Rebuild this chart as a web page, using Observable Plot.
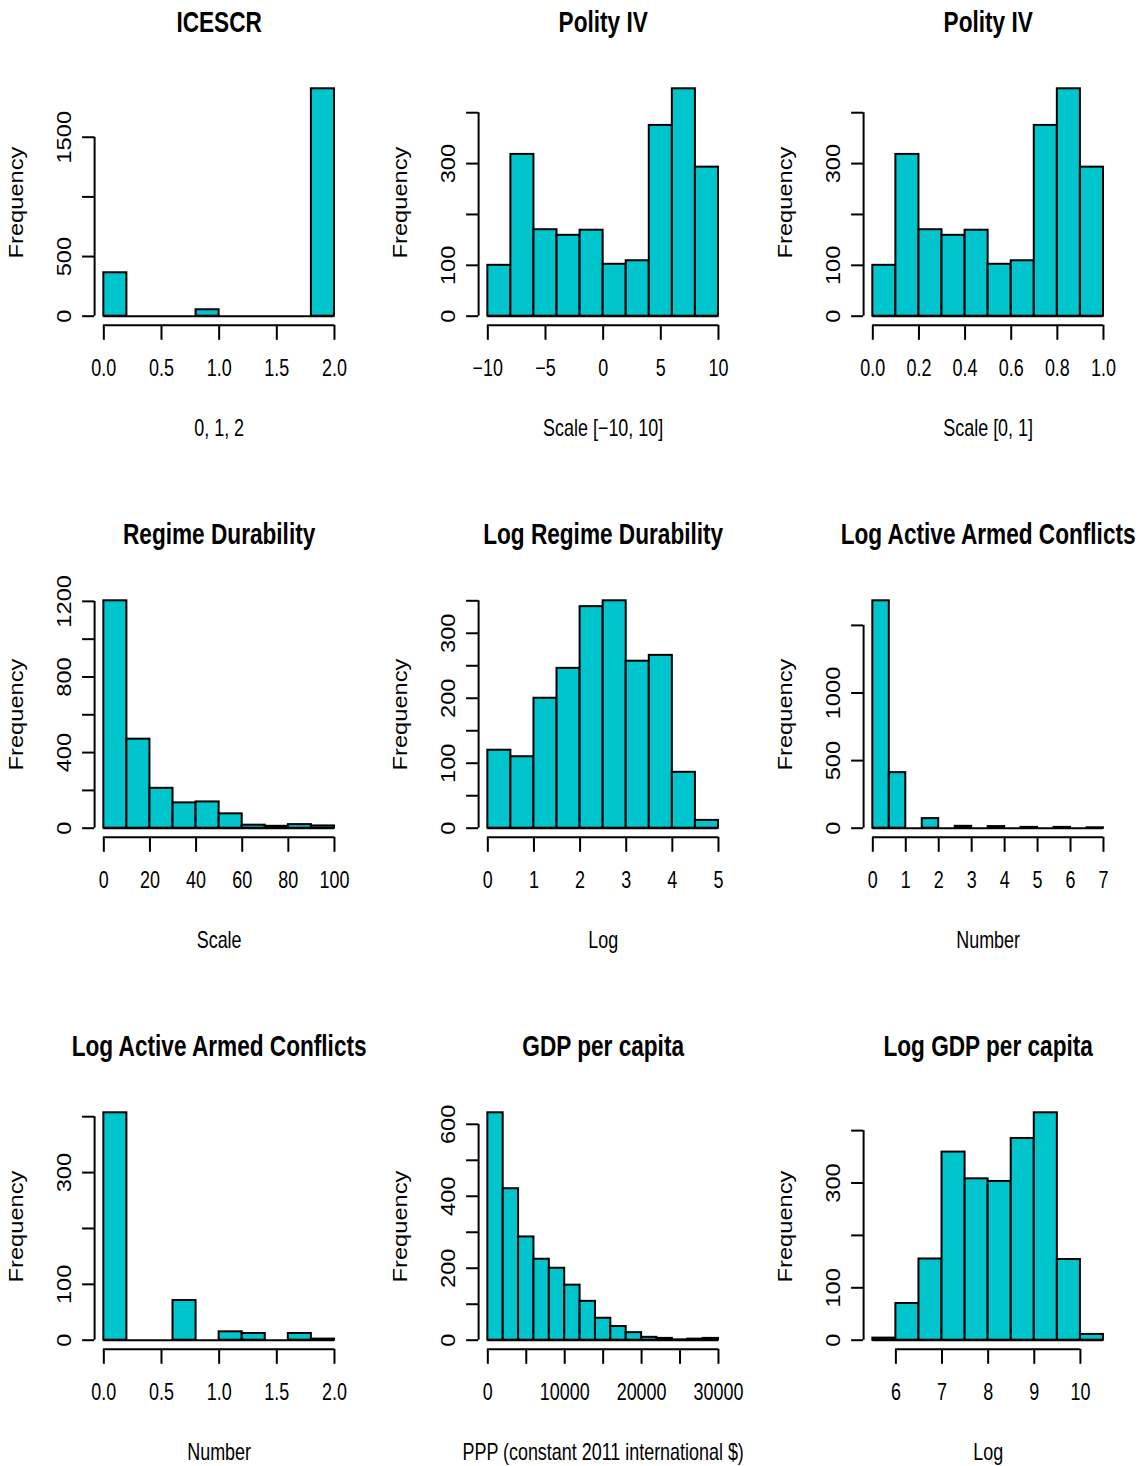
<!DOCTYPE html>
<html><head><meta charset="utf-8">
<script src="https://cdn.jsdelivr.net/npm/d3@7"></script>
<script src="https://cdn.jsdelivr.net/npm/@observablehq/plot@0.6"></script>
<style>
html,body{margin:0;padding:0;background:#fff;overflow:hidden;}
#wrap{position:relative;width:1147px;height:1466px;overflow:hidden;background:#fff;}
#wrap svg{position:absolute;overflow:visible;}
</style></head><body><div id="wrap"></div>
<script>
// ---- Titles ----
const titles = ["ICESCR","Polity IV","Polity IV","Regime Durability","Log Regime Durability","Log Active Armed Conflicts","Log Active Armed Conflicts","GDP per capita","Log GDP per capita"];
const xTitles = ["0, 1, 2","Scale [\u221210, 10]","Scale [0, 1]","Scale","Log","Number","Number","PPP (constant 2011 international $)","Log"];

// ---- Histogram bins (breaks) and counts ----
const icescrBreaks = [0,0.2,0.4,0.6,0.8,1.0,1.2,1.4,1.6,1.8,2.0];
const icescrCounts = [364,0,0,0,54,0,0,0,0,1906];

const polityBreaks = [-10,-8,-6,-4,-2,0,2,4,6,8,10];
const polityCounts = [100,318,170,159,169,102,109,375,447,293];

const polity01Breaks = [0,0.1,0.2,0.3,0.4,0.5,0.6,0.7,0.8,0.9,1.0];
const polity01Counts = [100,318,170,159,169,102,109,375,447,293];

const durabilityBreaks = [0,10,20,30,40,50,60,70,80,90,100];
const durabilityCounts = [1203,471,211,134,139,76,16,10,19,12];

const logDurabilityBreaks = [0,0.5,1,1.5,2,2.5,3,3.5,4,4.5,5];
const logDurabilityCounts = [120,110,200,246,341,350,257,266,86,12];

const conflictsBreaks = [0,0.5,1,1.5,2,2.5,3,3.5,4,4.5,5,5.5,6,6.5,7];
const conflictsCounts = [1682,411,0,71,0,14,0,12,0,6,0,6,0,3];

const conflicts2Breaks = [0,0.2,0.4,0.6,0.8,1.0,1.2,1.4,1.6,1.8,2.0];
const conflicts2Counts = [407,0,0,71,0,15,12,0,12,2];

const gdpBreaks = [0,2000,4000,6000,8000,10000,12000,14000,16000,18000,20000,22000,24000,26000,28000,30000];
const gdpCounts = [632,421,287,225,200,153,108,61,38,21,8,5,1,3,5];

const logGdpBreaks = [5.5,6,6.5,7,7.5,8,8.5,9,9.5,10,10.5];
const logGdpCounts = [4,70,155,359,308,303,385,434,154,11];

// ---- Axis ticks and tick labels ----
const icescrXTicks = [0,0.5,1,1.5,2];        const icescrXLabels = ["0.0","0.5","1.0","1.5","2.0"];
const icescrYTicks = [0,500,1000,1500];       const icescrYLabels = [[0,"0"],[500,"500"],[1500,"1500"]];
const polityXTicks = [-10,-5,0,5,10];         const polityXLabels = ["\u221210","\u22125","0","5","10"];
const polityYTicks = [0,100,200,300,400];     const polityYLabels = [[0,"0"],[100,"100"],[300,"300"]];
const polity01XTicks = [0,0.2,0.4,0.6,0.8,1]; const polity01XLabels = ["0.0","0.2","0.4","0.6","0.8","1.0"];
const durabilityXTicks = [0,20,40,60,80,100]; const durabilityXLabels = ["0","20","40","60","80","100"];
const durabilityYTicks = [0,200,400,600,800,1000,1200]; const durabilityYLabels = [[0,"0"],[400,"400"],[800,"800"],[1200,"1200"]];
const logDurXTicks = [0,1,2,3,4,5];           const logDurXLabels = ["0","1","2","3","4","5"];
const logDurYTicks = [0,50,100,150,200,250,300,350]; const logDurYLabels = [[0,"0"],[100,"100"],[200,"200"],[300,"300"]];
const conflictsXTicks = [0,1,2,3,4,5,6,7];    const conflictsXLabels = ["0","1","2","3","4","5","6","7"];
const conflictsYTicks = [0,500,1000,1500];    const conflictsYLabels = [[0,"0"],[500,"500"],[1000,"1000"]];
const conflicts2XTicks = [0,0.5,1,1.5,2];     const conflicts2XLabels = ["0.0","0.5","1.0","1.5","2.0"];
const conflicts2YTicks = [0,100,200,300,400]; const conflicts2YLabels = [[0,"0"],[100,"100"],[300,"300"]];
const gdpXTicks = [0,5000,10000,15000,20000,25000,30000]; const gdpXLabels = ["0","","10000","","20000","","30000"];
const gdpYTicks = [0,100,200,300,400,500,600]; const gdpYLabels = [[0,"0"],[200,"200"],[400,"400"],[600,"600"]];
const logGdpXTicks = [6,7,8,9,10];            const logGdpXLabels = ["6","7","8","9","10"];
const logGdpYTicks = [0,100,200,300,400];     const logGdpYLabels = [[0,"0"],[100,"100"],[300,"300"]];

// ---- Build panel specs from the arrays ----
const panels = [
  [icescrBreaks, icescrCounts, icescrXTicks, icescrXLabels, icescrYTicks, icescrYLabels],
  [polityBreaks, polityCounts, polityXTicks, polityXLabels, polityYTicks, polityYLabels],
  [polity01Breaks, polity01Counts, polity01XTicks, polity01XLabels, polityYTicks, polityYLabels],
  [durabilityBreaks, durabilityCounts, durabilityXTicks, durabilityXLabels, durabilityYTicks, durabilityYLabels],
  [logDurabilityBreaks, logDurabilityCounts, logDurXTicks, logDurXLabels, logDurYTicks, logDurYLabels],
  [conflictsBreaks, conflictsCounts, conflictsXTicks, conflictsXLabels, conflictsYTicks, conflictsYLabels],
  [conflicts2Breaks, conflicts2Counts, conflicts2XTicks, conflicts2XLabels, conflicts2YTicks, conflicts2YLabels],
  [gdpBreaks, gdpCounts, gdpXTicks, gdpXLabels, gdpYTicks, gdpYLabels],
  [logGdpBreaks, logGdpCounts, logGdpXTicks, logGdpXLabels, logGdpYTicks, logGdpYLabels]
];

const FILL = "#00C5CD";
const FONT = "'Liberation Sans', Arial, Helvetica, sans-serif";
const colLeft = [0, 384.4, 768.6];
const rowTop = [0, 512, 1024];
const W = 378, H = 470, ML = 94.1, MT = 79.2, PW = 249.1, PH = 245.6;

const wrap = document.getElementById("wrap");

panels.forEach(([br, counts, xt, xtl, yt, ytl], k) => {
  const bins = counts.map((n, i) => ({x1: br[i], x2: br[i + 1], n}));
  const x0 = br[0], x1 = br[br.length - 1], xr = x1 - x0;
  const ymax = d3.max(counts);
  const xDom = [x0 - 0.04 * xr, x1 + 0.04 * xr];
  const yDom = [-0.04 * ymax, 1.04 * ymax];
  const xLabData = xt.map((v, i) => ({v, t: xtl[i]})).filter(d => d.t !== "");
  const plot = Plot.plot({
    width: W, height: H,
    marginLeft: ML, marginRight: W - ML - PW,
    marginTop: MT, marginBottom: H - MT - PH,
    x: {domain: xDom, axis: null},
    y: {domain: yDom, axis: null},
    style: {fontFamily: FONT, color: "black", background: "white", overflow: "visible"},
    marks: [
      Plot.ruleY([0], {x1: x0, x2: x1, stroke: "black", strokeWidth: 2}),
      Plot.rect(bins, {x1: "x1", x2: "x2", y1: 0, y2: "n", fill: FILL, stroke: "black", strokeWidth: 2}),
      // axis lines spanning first..last tick
      Plot.ruleY([yDom[0]], {x1: xt[0], x2: xt[xt.length - 1], stroke: "black", strokeWidth: 2}),
      Plot.ruleX([xDom[0]], {y1: yt[0], y2: yt[yt.length - 1], stroke: "black", strokeWidth: 2}),
      Plot.axisX({ticks: xt, tickSize: 15, tickFormat: () => "", label: null, stroke: "black", strokeWidth: 2}),
      Plot.axisY({ticks: yt, tickSize: 12, tickFormat: () => "", label: null, stroke: "black", strokeWidth: 2}),
      Plot.text(xLabData, {x: "v", text: "t", frameAnchor: "bottom", dy: 43.7, lineAnchor: "middle", textAnchor: "middle", fontSize: 23, fill: "black"}),
      Plot.text(ytl, {y: d => d[0], text: d => d[1], frameAnchor: "left", dx: -23.4, rotate: -90, lineAnchor: "bottom", textAnchor: "middle", fontSize: 23, fill: "black"}),
      Plot.text(["Frequency"], {frameAnchor: "left", dx: -72, rotate: -90, lineAnchor: "bottom", textAnchor: "middle", fontSize: 23, fill: "black"}),
      Plot.text([xTitles[k]], {frameAnchor: "bottom", dy: 103, lineAnchor: "middle", textAnchor: "middle", fontSize: 23, fill: "black"}),
      Plot.text([titles[k]], {frameAnchor: "top", dy: -47.5, lineAnchor: "bottom", textAnchor: "middle", fontSize: 29, fontWeight: "bold", fill: "black"})
    ]
  });
  // emulate the vertically stretched R rendering: squeeze glyphs horizontally on the page
  plot.querySelectorAll("text").forEach(t => {
    const tr = t.getAttribute("transform") || "";
    const rotated = /rotate\(-90\)/.test(tr);
    let base = tr;
    const xa = t.getAttribute("x");
    if (xa && !/em$/.test(xa)) { base = `${tr} translate(${xa},0)`; t.removeAttribute("x"); }
    t.setAttribute("transform", base + (rotated ? " scale(1.03,0.87)" : " scale(0.78,1)"));
  });
  const c = k % 3, r = Math.floor(k / 3);
  plot.style.left = colLeft[c] + "px";
  plot.style.top = rowTop[r] + "px";
  wrap.appendChild(plot);
});
</script></body></html>
